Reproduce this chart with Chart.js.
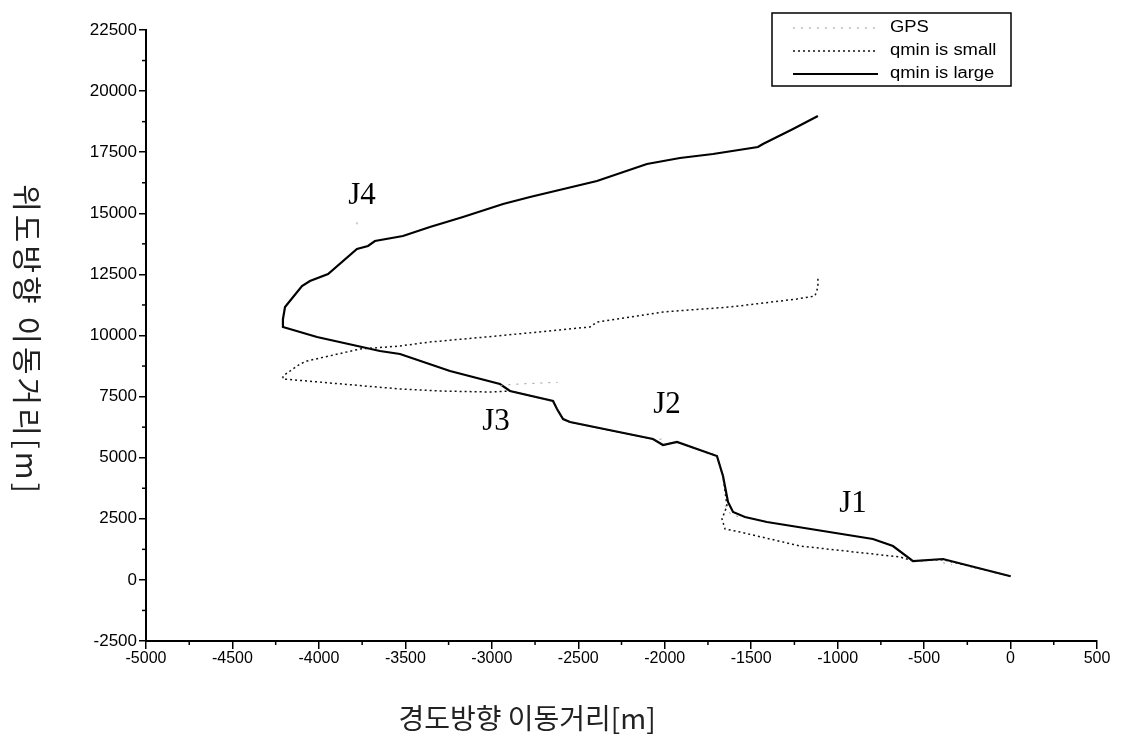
<!DOCTYPE html>
<html>
<head>
<meta charset="utf-8">
<script src="https://cdn.jsdelivr.net/npm/chart.js@4.4.0/dist/chart.umd.min.js"></script>
<style>
  html, body { margin: 0; padding: 0; background: #fff; }
  #wrap { width: 1123px; height: 743px; position: relative; }
</style>
</head>
<body>
<div id="wrap"><canvas id="track-chart" width="1123" height="743"></canvas></div>
<script>
// Data (x = longitude distance, y = latitude distance, m)
const largeX = [0, -391, -564, -680, -796, -1409, -1536, -1605, -1634, -1663, -1698, -1929, -2010, -2068, -2548, -2588, -2623, -2646, -2895, -2953, -3242, -3531, -3647, -4011, -4208, -4208, -4196, -4098, -4052, -3947, -3780, -3716, -3676, -3514, -3358, -3167, -2935, -2779, -2392, -2103, -1912, -1721, -1461, -1432, -1258, -1114];
const largeY = [150, 855, 773, 1387, 1673, 2369, 2574, 2778, 3187, 4251, 5070, 5642, 5520, 5765, 6461, 6583, 6993, 7320, 7729, 8016, 8547, 9243, 9366, 9939, 10348, 10675, 11166, 12025, 12230, 12516, 13539, 13662, 13867, 14071, 14439, 14849, 15380, 15667, 16322, 17017, 17263, 17426, 17713, 17836, 18449, 18981];

const smallX = [0, -391, -564, -639, -1218, -1565, -1651, -1669, -1640, -1663, -1698, -1929, -2010, -2068, -2548, -2588, -2623, -2646, -2895, -3011, -3300, -3531, -4069, -4208, -4208, -4109, -4069, -3762, -3531, -3358, -2970, -2432, -2392, -2010, -1623, -1235, -1131, -1114, -1114];
const smallY = [150, 830, 773, 937, 1387, 1960, 2083, 2492, 3024, 4251, 5070, 5642, 5520, 5765, 6461, 6583, 6993, 7320, 7729, 7688, 7729, 7811, 8138, 8220, 8343, 8834, 8957, 9448, 9570, 9734, 9980, 10348, 10552, 10962, 11166, 11493, 11616, 11984, 12394];

// GPS only shows up as a few faint pieces
const gpsX = [-3780, -3780, null, -2950, -2880, -2800, -2700, -2620, null, -2030, -1990, null, -1650, -1620, -1560, null, -390, -340];
const gpsY = [14550, 14800, null, 7950, 8000, 8030, 8060, 8080, null, 5750, 5800, null, 3050, 2700, 2550, null, 700, 620];

const seriesNames = ["GPS", "qmin is small", "qmin is large"];

// Junction labels
const jNames = ["J1", "J2", "J3", "J4"];
const jX = [-911, -1987, -2976, -3751];
const jY = [3106, 7156, 6461, 15708];

const xTitle = "경도방향 이동거리[m]";
const yTitle = "위도방향 이동거리[m]";

function toPoints(xs, ys) {
  return xs.map((x, i) => ({ x: x === null ? 0 : x, y: ys[i] }));
}

// minor ticks, labels, legend, axis titles
const extrasPlugin = {
  id: "extras",
  afterDraw(chart) {
    const ctx = chart.ctx;
    const xs = chart.scales.x;
    const ys = chart.scales.y;
    const area = chart.chartArea;

    ctx.save();
    ctx.strokeStyle = "#000";
    ctx.lineWidth = 1.5;
    // minor ticks
    for (let i = 0; i < xs.ticks.length - 1; i++) {
      const v = (xs.ticks[i].value + xs.ticks[i + 1].value) / 2;
      const px = xs.getPixelForValue(v);
      ctx.beginPath();
      ctx.moveTo(px, area.bottom);
      ctx.lineTo(px, area.bottom + 4);
      ctx.stroke();
    }
    for (let i = 0; i < ys.ticks.length - 1; i++) {
      const v = (ys.ticks[i].value + ys.ticks[i + 1].value) / 2;
      const py = ys.getPixelForValue(v);
      ctx.beginPath();
      ctx.moveTo(area.left, py);
      ctx.lineTo(area.left - 4, py);
      ctx.stroke();
    }

    // junction labels
    ctx.fillStyle = "#000";
    ctx.font = "31px 'Liberation Serif'";
    ctx.textAlign = "center";
    ctx.textBaseline = "middle";
    jNames.forEach((name, i) => {
      ctx.fillText(name, xs.getPixelForValue(jX[i]), ys.getPixelForValue(jY[i]));
    });

    // legend box
    const lx = 772, ly = 13, lw = 239, lh = 73;
    ctx.lineWidth = 1.5;
    ctx.strokeRect(lx, ly, lw, lh);
    chart.data.datasets.forEach((ds, i) => {
      const rowY = ly + 15 + i * 23;
      ctx.save();
      ctx.strokeStyle = ds.borderColor;
      ctx.lineWidth = ds.borderWidth;
      ctx.setLineDash(ds.borderDash || []);
      ctx.beginPath();
      ctx.moveTo(lx + 21, rowY);
      ctx.lineTo(lx + 106, rowY);
      ctx.stroke();
      ctx.restore();
      ctx.save();
      ctx.translate(lx + 118, rowY);
      ctx.scale(1.15, 1);
      ctx.font = "16px 'Liberation Sans'";
      ctx.textAlign = "left";
      ctx.fillStyle = "#000";
      ctx.fillText(ds.label, 0, 0);
      ctx.restore();
    });

    // axis titles
    ctx.font = "28px 'Noto Sans CJK KR'";
    ctx.fillStyle = "#222";
    ctx.textAlign = "center";
    ctx.fillText(xTitle, 527, 718);

    ctx.save();
    ctx.translate(27, 340);
    ctx.rotate(Math.PI / 2);
    ctx.font = "30px 'Noto Sans CJK KR'";
    ctx.letterSpacing = "3px";
    ctx.fillText(yTitle, 0, 0);
    ctx.restore();

    ctx.restore();
  },
};

const plainNumber = (v) => String(v);

new Chart(document.getElementById("track-chart"), {
  type: "scatter",
  data: {
    datasets: [
      {
        label: seriesNames[0],
        data: toPoints(gpsX, gpsY),
        showLine: true,
        spanGaps: false,
        borderColor: "#9a9a9a",
        borderWidth: 1,
        borderDash: [2, 6],
        pointRadius: 0,
      },
      {
        label: seriesNames[1],
        data: toPoints(smallX, smallY),
        showLine: true,
        borderColor: "#111",
        borderWidth: 1.5,
        borderDash: [2, 3],
        pointRadius: 0,
      },
      {
        label: seriesNames[2],
        data: toPoints(largeX, largeY),
        showLine: true,
        borderColor: "#000",
        borderWidth: 2.2,
        pointRadius: 0,
      },
    ],
  },
  options: {
    responsive: false,
    animation: false,
    devicePixelRatio: 1,
    layout: { padding: { top: 30, right: 26, left: 0, bottom: 0 } },
    plugins: {
      legend: { display: false },
      tooltip: { enabled: false },
    },
    scales: {
      x: {
        type: "linear",
        min: -5000,
        max: 500,
        afterFit: (scale) => { scale.height = 102; },
        ticks: { stepSize: 500, color: "#000", font: { family: "'Liberation Sans', Arial", size: 16 }, padding: 0, maxRotation: 0, autoSkip: false, callback: plainNumber },
        grid: { drawOnChartArea: false, drawTicks: true, tickLength: 8, color: "#000", lineWidth: 1.5 },
        border: { color: "#000", width: 2 },
      },
      y: {
        type: "linear",
        min: -2500,
        max: 22500,
        afterFit: (scale) => { scale.width = 146; },
        ticks: { stepSize: 2500, color: "#000", font: { family: "'Liberation Sans', Arial", size: 17 }, padding: 2, autoSkip: false, callback: plainNumber },
        grid: { drawOnChartArea: false, drawTicks: true, tickLength: 7, color: "#000", lineWidth: 1.5 },
        border: { color: "#000", width: 2 },
      },
    },
  },
  plugins: [extrasPlugin],
});
</script>
</body>
</html>
